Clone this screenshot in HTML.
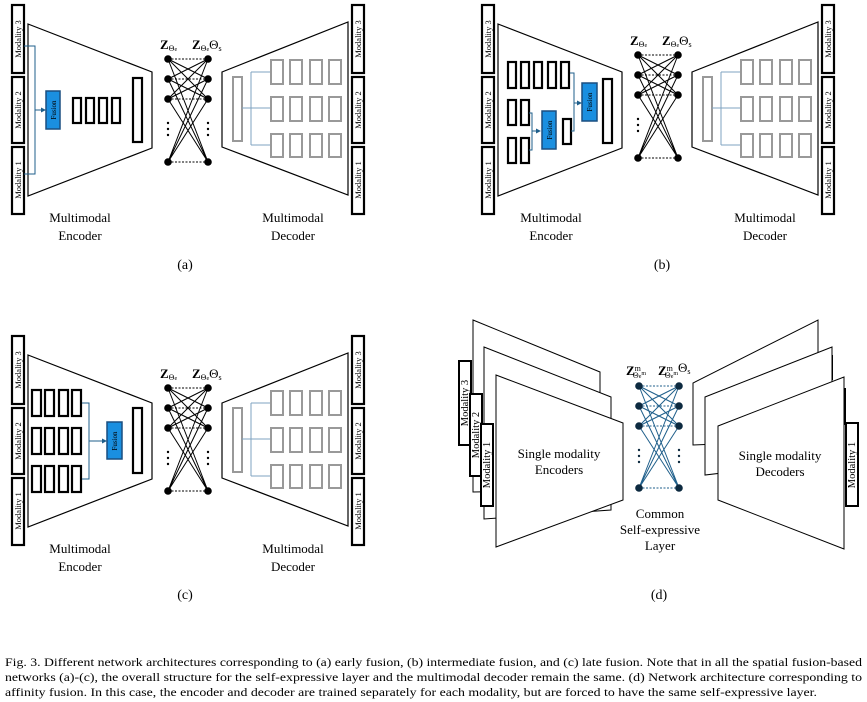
<!DOCTYPE html>
<html><head><meta charset="utf-8"><style>
html,body{margin:0;padding:0;background:#fff;}
svg{display:block;font-family:"Liberation Serif",serif;}
</style></head><body>
<svg width="867" height="702" viewBox="0 0 867 702" xmlns="http://www.w3.org/2000/svg">
<defs>
<marker id="ar" markerWidth="5" markerHeight="5" refX="4" refY="2.5" orient="auto"><path d="M0,0 L5,2.5 L0,5z" fill="#1f5f8b"/></marker>
<g id="mods"><rect x="12" y="5" width="12" height="68" fill="#fff" stroke="#000" stroke-width="2.2"/><rect x="12" y="77" width="12" height="66" fill="#fff" stroke="#000" stroke-width="2.2"/><rect x="12" y="147" width="12" height="67" fill="#fff" stroke="#000" stroke-width="2.2"/></g>
<g id="net" stroke="#000" stroke-width="1">
<g stroke-dasharray="2,1.5"><line x1="168" y1="59" x2="208" y2="59"/><line x1="168" y1="79" x2="208" y2="79"/><line x1="168" y1="99" x2="208" y2="99"/><line x1="168" y1="162" x2="208" y2="162"/></g>
<path d="M168,59L208,79M168,59L208,99M168,59L208,162M168,79L208,59M168,79L208,99M168,79L208,162M168,99L208,59M168,99L208,79M168,99L208,162M168,162L208,59M168,162L208,79M168,162L208,99" fill="none"/>
<g fill="#000" stroke="none"><circle cx="168" cy="59" r="3.8"/><circle cx="168" cy="79" r="3.8"/><circle cx="168" cy="99" r="3.8"/><circle cx="168" cy="162" r="3.8"/><circle cx="208" cy="59" r="3.8"/><circle cx="208" cy="79" r="3.8"/><circle cx="208" cy="99" r="3.8"/><circle cx="208" cy="162" r="3.8"/>
<circle cx="168" cy="123" r="1.2"/><circle cx="168" cy="129" r="1.2"/><circle cx="168" cy="135" r="1.2"/></g>
</g>
<g id="dots2" fill="#000"><circle cx="208" cy="123" r="1.2"/><circle cx="208" cy="129" r="1.2"/><circle cx="208" cy="135" r="1.2"/></g>
<g id="dec">
<polygon points="222,72 348,22 348,195 222,147" fill="#fff" stroke="#000" stroke-width="1.2"/>
<rect x="233" y="77" width="9" height="64" fill="none" stroke="#999" stroke-width="2"/>
<path d="M242,108H251M251,72V145M251,72H270M251,108H270M251,145H270" stroke="#7fa3c0" stroke-width="1" fill="none"/>
<g fill="none" stroke="#999" stroke-width="2">
<rect x="271" y="60" width="12" height="24"/><rect x="290" y="60" width="12" height="24"/><rect x="310" y="60" width="12" height="24"/><rect x="329" y="60" width="12" height="24"/>
<rect x="271" y="97" width="12" height="24"/><rect x="290" y="97" width="12" height="24"/><rect x="310" y="97" width="12" height="24"/><rect x="329" y="97" width="12" height="24"/>
<rect x="271" y="134" width="12" height="23"/><rect x="290" y="134" width="12" height="23"/><rect x="310" y="134" width="12" height="23"/><rect x="329" y="134" width="12" height="23"/>
</g></g>
<polygon id="enc" points="28,24 152,72 152,148 28,196" fill="#fff" stroke="#000" stroke-width="1.2"/>
</defs>

<g>
<use href="#enc"/><use href="#mods"/><use href="#net"/><use href="#dots2"/><use href="#dec"/><use href="#mods" x="340"/>
</g>
<g transform="translate(470,0)">
<use href="#enc"/><use href="#mods"/><use href="#net" y="-4"/><use href="#dec"/><use href="#mods" x="340"/>
</g>
<g transform="translate(0,331)">
<use href="#enc"/><use href="#mods"/><use href="#net" y="-2"/><use href="#dots2" y="-2"/><use href="#dec"/><use href="#mods" x="340"/>
</g>

<g>
<path d="M24,46H35V174H24M35,110H45" stroke="#1f5f8b" fill="none" stroke-width="1" marker-end="url(#ar)"/>
<rect x="46" y="91" width="14" height="38" fill="#1a8fe0" stroke="#1a4f80" stroke-width="1.5"/>
<g fill="none" stroke="#000" stroke-width="2.2"><rect x="73" y="98" width="8" height="25"/><rect x="86" y="98" width="8" height="25"/><rect x="99" y="98" width="8" height="25"/><rect x="112" y="98" width="8" height="25"/><rect x="133" y="78" width="9" height="64"/></g>
</g>
<g transform="translate(470,0)">
<g fill="none" stroke="#000" stroke-width="2.2">
<rect x="38" y="62" width="8" height="26"/><rect x="51" y="62" width="8" height="26"/><rect x="64" y="62" width="8" height="26"/><rect x="78" y="62" width="8" height="26"/><rect x="91" y="62" width="8" height="26"/>
<rect x="38" y="100" width="8" height="25"/><rect x="51" y="100" width="8" height="25"/>
<rect x="38" y="138" width="8" height="25"/><rect x="51" y="138" width="8" height="25"/>
<rect x="93" y="119" width="8" height="25"/><rect x="133" y="79" width="9" height="64"/></g>
<path d="M59,113H62V150H59M62,131H70" stroke="#1f5f8b" fill="none" stroke-width="1" marker-end="url(#ar)"/>
<path d="M101,131H104V73H100M104,103H111" stroke="#1f5f8b" fill="none" stroke-width="1" marker-end="url(#ar)"/>
<rect x="72" y="111" width="14" height="38" fill="#1a8fe0" stroke="#1a4f80" stroke-width="1.5"/>
<rect x="112" y="83" width="15" height="38" fill="#1a8fe0" stroke="#1a4f80" stroke-width="1.5"/>
</g>
<g transform="translate(0,331)">
<g fill="none" stroke="#000" stroke-width="2.2">
<rect x="32" y="59" width="9" height="26"/><rect x="45" y="59" width="9" height="26"/><rect x="59" y="59" width="9" height="26"/><rect x="72" y="59" width="9" height="26"/>
<rect x="32" y="97" width="9" height="26"/><rect x="45" y="97" width="9" height="26"/><rect x="59" y="97" width="9" height="26"/><rect x="72" y="97" width="9" height="26"/>
<rect x="32" y="135" width="9" height="26"/><rect x="45" y="135" width="9" height="26"/><rect x="59" y="135" width="9" height="26"/><rect x="72" y="135" width="9" height="26"/>
<rect x="133" y="77" width="9" height="65"/></g>
<path d="M82,72H89V148H82M89,110H106" stroke="#1f5f8b" fill="none" stroke-width="1" marker-end="url(#ar)"/>
<rect x="107" y="91" width="15" height="37" fill="#1a8fe0" stroke="#1a4f80" stroke-width="1.5"/>
</g>

<g transform="translate(440,300)">
<polygon points="33,20 160,72 160,190 33,192" fill="#fff" stroke="#000" stroke-width="1"/>
<polygon points="44,47 171,97 171,210 44,219" fill="#fff" stroke="#000" stroke-width="1"/>
<rect x="19" y="61" width="12" height="84" fill="#fff" stroke="#000" stroke-width="2"/>
<rect x="30" y="94" width="12" height="82" fill="#fff" stroke="#000" stroke-width="2"/>
<rect x="41" y="124" width="12" height="82" fill="#fff" stroke="#000" stroke-width="2"/>
<polygon points="56,75 183,123 183,200 56,247" fill="#fff" stroke="#000" stroke-width="1"/>
<polygon points="253,145 253,83 378,20 378,140" fill="#fff" stroke="#000" stroke-width="1"/>
<line x1="392" y1="55" x2="392" y2="80" stroke="#000" stroke-width="2"/>
<polygon points="265,175 265,97 392,47 392,160" fill="#fff" stroke="#000" stroke-width="1"/>
<line x1="405" y1="88" x2="405" y2="125" stroke="#000" stroke-width="2"/>
<polygon points="278,200 278,126 404,77 404,249" fill="#fff" stroke="#000" stroke-width="1"/>
<rect x="406" y="123" width="12" height="83" fill="#fff" stroke="#000" stroke-width="2"/>
<g stroke="#1f5f8b" stroke-width="1">
<g stroke-dasharray="2,1.5"><line x1="199" y1="86" x2="239" y2="86"/><line x1="199" y1="106" x2="239" y2="106"/><line x1="199" y1="126" x2="239" y2="126"/><line x1="199" y1="188" x2="239" y2="188"/></g>
<path d="M199,86L239,106M199,86L239,126M199,86L239,188M199,106L239,86M199,106L239,126M199,106L239,188M199,126L239,86M199,126L239,106M199,126L239,188M199,188L239,86M199,188L239,106M199,188L239,126" fill="none"/>
</g>
<g fill="#0d2a40"><circle cx="199" cy="86" r="3.8"/><circle cx="199" cy="106" r="3.8"/><circle cx="199" cy="126" r="3.8"/><circle cx="199" cy="188" r="3.8"/><circle cx="239" cy="86" r="3.8"/><circle cx="239" cy="106" r="3.8"/><circle cx="239" cy="126" r="3.8"/><circle cx="239" cy="188" r="3.8"/>
<circle cx="199" cy="150" r="1.2"/><circle cx="199" cy="156" r="1.2"/><circle cx="199" cy="162" r="1.2"/><circle cx="239" cy="150" r="1.2"/><circle cx="239" cy="156" r="1.2"/><circle cx="239" cy="162" r="1.2"/></g>
<g font-size="13" fill="#000" text-anchor="middle">
<text x="119" y="158">Single modality</text><text x="119" y="174">Encoders</text>
<text x="340" y="160">Single modality</text><text x="340" y="176">Decoders</text>
<text x="220" y="218">Common</text><text x="220" y="234">Self-expressive</text><text x="220" y="250">Layer</text>
<text x="219" y="299" font-size="14">(d)</text>
</g>
<g font-size="10.5" fill="#000">
<text transform="translate(28,103) rotate(-90)" text-anchor="middle">Modality 3</text>
<text transform="translate(39,135) rotate(-90)" text-anchor="middle">Modality 2</text>
<text transform="translate(50,165) rotate(-90)" text-anchor="middle">Modality 1</text>
<text transform="translate(415,165) rotate(-90)" text-anchor="middle">Modality 1</text>
</g>
<g font-weight="bold" font-size="13"><text x="186" y="75">Z<tspan font-size="8" font-weight="normal" dy="-4">m</tspan><tspan font-size="8" font-weight="normal" dx="-8" dy="7">Θ<tspan font-size="6">e</tspan><tspan font-size="6" dy="-3">m</tspan></tspan></text>
<text x="218" y="75">Z<tspan font-size="8" font-weight="normal" dy="-4">m</tspan><tspan font-size="8" font-weight="normal" dx="-8" dy="7">Θ<tspan font-size="6">e</tspan><tspan font-size="6" dy="-3">m</tspan></tspan><tspan font-weight="normal" font-size="13" dy="-3">Θ</tspan><tspan font-weight="normal" font-size="8" dy="2">s</tspan></text></g>
</g>

<g font-size="8.5" fill="#000" text-anchor="middle">
<text transform="translate(21,39) rotate(-90)">Modality 3</text><text transform="translate(21,110) rotate(-90)">Modality 2</text><text transform="translate(21,180) rotate(-90)">Modality 1</text>
<text transform="translate(361,39) rotate(-90)">Modality 3</text><text transform="translate(361,110) rotate(-90)">Modality 2</text><text transform="translate(361,180) rotate(-90)">Modality 1</text>
<text transform="translate(491,39) rotate(-90)">Modality 3</text><text transform="translate(491,110) rotate(-90)">Modality 2</text><text transform="translate(491,180) rotate(-90)">Modality 1</text>
<text transform="translate(831,39) rotate(-90)">Modality 3</text><text transform="translate(831,110) rotate(-90)">Modality 2</text><text transform="translate(831,180) rotate(-90)">Modality 1</text>
<text transform="translate(21,370) rotate(-90)">Modality 3</text><text transform="translate(21,441) rotate(-90)">Modality 2</text><text transform="translate(21,511) rotate(-90)">Modality 1</text>
<text transform="translate(361,370) rotate(-90)">Modality 3</text><text transform="translate(361,441) rotate(-90)">Modality 2</text><text transform="translate(361,511) rotate(-90)">Modality 1</text>
</g>
<g font-size="7" fill="#000" text-anchor="middle">
<text transform="translate(56,110) rotate(-90)">Fusion</text>
<text transform="translate(552,130) rotate(-90)">Fusion</text>
<text transform="translate(592,102) rotate(-90)">Fusion</text>
<text transform="translate(117,441) rotate(-90)">Fusion</text>
</g>
<g font-size="13" fill="#000">
<text x="160" y="49" font-weight="bold">Z<tspan font-size="8" font-weight="normal" dy="2">Θ<tspan font-size="6">e</tspan></tspan></text>
<text x="192" y="49" font-weight="bold">Z<tspan font-size="8" font-weight="normal" dy="2">Θ<tspan font-size="6">e</tspan></tspan><tspan font-weight="normal" dy="-2">Θ</tspan><tspan font-size="8" font-weight="normal" dy="2">s</tspan></text>
<text x="630" y="45" font-weight="bold">Z<tspan font-size="8" font-weight="normal" dy="2">Θ<tspan font-size="6">e</tspan></tspan></text>
<text x="662" y="45" font-weight="bold">Z<tspan font-size="8" font-weight="normal" dy="2">Θ<tspan font-size="6">e</tspan></tspan><tspan font-weight="normal" dy="-2">Θ</tspan><tspan font-size="8" font-weight="normal" dy="2">s</tspan></text>
<text x="160" y="378" font-weight="bold">Z<tspan font-size="8" font-weight="normal" dy="2">Θ<tspan font-size="6">e</tspan></tspan></text>
<text x="192" y="378" font-weight="bold">Z<tspan font-size="8" font-weight="normal" dy="2">Θ<tspan font-size="6">e</tspan></tspan><tspan font-weight="normal" dy="-2">Θ</tspan><tspan font-size="8" font-weight="normal" dy="2">s</tspan></text>
</g>
<g font-size="13" fill="#000" text-anchor="middle">
<text x="80" y="222">Multimodal</text><text x="80" y="240">Encoder</text>
<text x="293" y="222">Multimodal</text><text x="293" y="240">Decoder</text>
<text x="551" y="222">Multimodal</text><text x="551" y="240">Encoder</text>
<text x="765" y="222">Multimodal</text><text x="765" y="240">Decoder</text>
<text x="80" y="553">Multimodal</text><text x="80" y="571">Encoder</text>
<text x="293" y="553">Multimodal</text><text x="293" y="571">Decoder</text>
<text x="185" y="269" font-size="14">(a)</text>
<text x="662" y="269" font-size="14">(b)</text>
<text x="185" y="599" font-size="14">(c)</text>
</g>
<g font-size="12" fill="#000">
<text x="5" y="666" textLength="857" lengthAdjust="spacingAndGlyphs">Fig. 3.  Different network architectures corresponding to (a) early fusion, (b) intermediate fusion, and (c) late fusion. Note that in all the spatial fusion-based</text>
<text x="5" y="681" textLength="857" lengthAdjust="spacingAndGlyphs">networks (a)-(c), the overall structure for the self-expressive layer and the multimodal decoder remain the same. (d) Network architecture corresponding to</text>
<text x="5" y="696" textLength="812" lengthAdjust="spacingAndGlyphs">affinity fusion. In this case, the encoder and decoder are trained separately for each modality, but are forced to have the same self-expressive layer.</text>
</g>
</svg>
</body></html>
